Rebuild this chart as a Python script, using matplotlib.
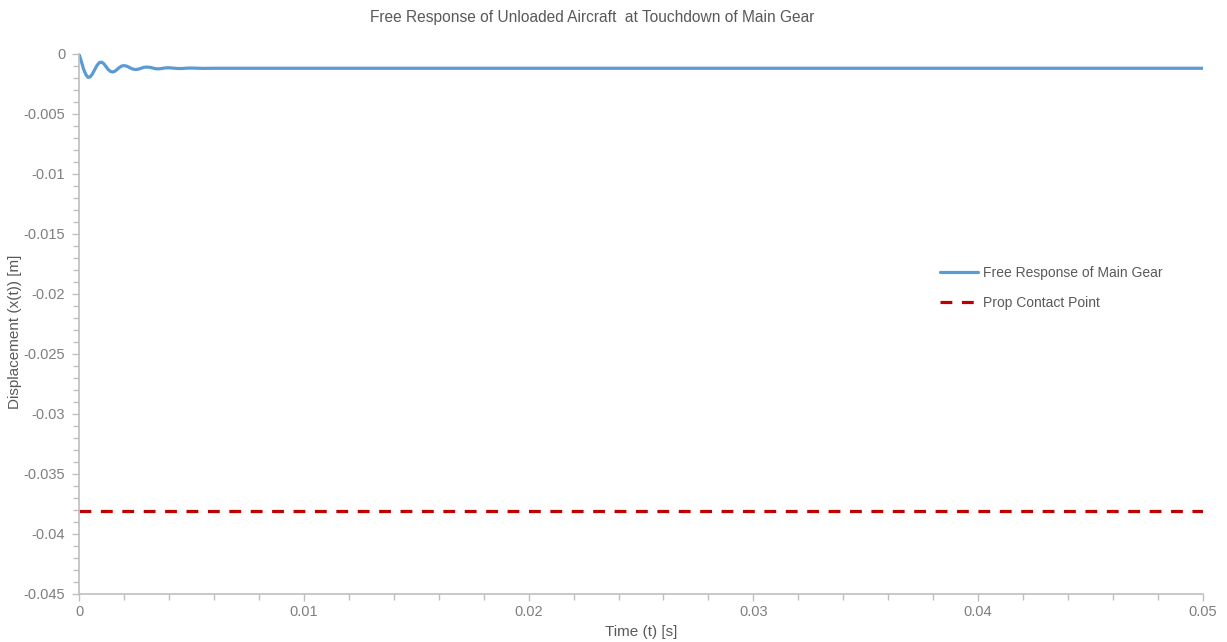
import matplotlib
matplotlib.use('Agg')
import matplotlib.pyplot as plt
from matplotlib.ticker import MultipleLocator, FixedLocator, FixedFormatter

plt.rcParams['font.family'] = ['Liberation Sans', 'DejaVu Sans']
plt.rcParams['axes.unicode_minus'] = False

# free response of main gear
time_s = [0, 0.0001, 0.0002, 0.0003, 0.0004, 0.0005, 0.0006, 0.0007, 0.0008, 0.0009,
          0.0010, 0.0011, 0.0012, 0.0013, 0.0014, 0.0015, 0.0016, 0.0017, 0.0018, 0.0019,
          0.0020, 0.0021, 0.0022, 0.0023, 0.0024, 0.0025, 0.0026, 0.0027, 0.0028, 0.0029,
          0.0030, 0.0031, 0.0032, 0.0033, 0.0034, 0.0035, 0.0036, 0.0037, 0.0038, 0.0039,
          0.0040, 0.0042, 0.0044, 0.0046, 0.0048, 0.0050, 0.0055, 0.0060, 0.0070, 0.0500]
displacement = [0, -0.0006, -0.00125, -0.0017, -0.00195, -0.0019, -0.00165, -0.0013, -0.00095, -0.00072,
                -0.00068, -0.0008, -0.00105, -0.0013, -0.00145, -0.0015, -0.00143, -0.00128, -0.00112, -0.0010,
                -0.00097, -0.0010, -0.00108, -0.00118, -0.00126, -0.00129, -0.00128, -0.00123, -0.00116, -0.00111,
                -0.00109, -0.0011, -0.00113, -0.00118, -0.00122, -0.00124, -0.00123, -0.0012, -0.00117, -0.00115,
                -0.00115, -0.00118, -0.00121, -0.00121, -0.00118, -0.00117, -0.0012, -0.00119, -0.00119, -0.00119]

prop_contact = -0.0381
prop_time = [0, 0.05]

x_ticks = [0, 0.01, 0.02, 0.03, 0.04, 0.05]
x_labels = ['0', '0.01', '0.02', '0.03', '0.04', '0.05']
y_ticks = [0, -0.005, -0.01, -0.015, -0.02, -0.025, -0.03, -0.035, -0.04, -0.045]
y_labels = ['0', '-0.005', '-0.01', '-0.015', '-0.02', '-0.025', '-0.03', '-0.035', '-0.04', '-0.045']

grey = '#595959'
fig = plt.figure(figsize=(12.27, 6.42), dpi=100)
ax = fig.add_axes([0.0644, 0.0748, 0.916, 0.8411])

ax.plot(time_s, displacement, color='#5b9bd5', linewidth=2.3,
        label='Free Response of Main Gear', solid_capstyle='round')
ax.plot(prop_time, [prop_contact, prop_contact], color='#c00000', linewidth=2.3,
        linestyle=(0, (3.7, 3.0)), label='Prop Contact Point')

ax.set_xlim(0, 0.05)
ax.set_ylim(-0.045, 0)
ax.xaxis.set_major_locator(FixedLocator(x_ticks))
ax.xaxis.set_major_formatter(FixedFormatter(x_labels))
ax.xaxis.set_minor_locator(MultipleLocator(0.002))
ax.yaxis.set_major_locator(FixedLocator(y_ticks))
ax.yaxis.set_major_formatter(FixedFormatter(y_labels))
ax.yaxis.set_minor_locator(MultipleLocator(0.001))

for s in ['top', 'right']:
    ax.spines[s].set_visible(False)
for s in ['left', 'bottom']:
    ax.spines[s].set_color('#bfbfbf')
    ax.spines[s].set_linewidth(1.2)

ax.tick_params(which='both', direction='out', color='#bfbfbf', width=1.0,
               labelcolor='#7f7f7f', labelsize=10.5)
ax.tick_params(which='major', length=5)
ax.tick_params(which='minor', length=4)
ax.tick_params(axis='x', pad=3)
ax.tick_params(axis='y', pad=5)

ax.set_xlabel('Time (t) [s]', color=grey, fontsize=11, labelpad=4)
ax.set_ylabel('Displacement (x(t)) [m]', color=grey, fontsize=11)
ax.yaxis.set_label_coords(-0.0507, 0.485)
fig.suptitle('Free Response of Unloaded Aircraft  at Touchdown of Main Gear',
             color=grey, fontsize=11.2, x=0.483, y=0.985)

leg = ax.legend(loc='upper left', bbox_to_anchor=(927 / 1227, 1 - 253 / 642),
                bbox_transform=fig.transFigure, frameon=False, fontsize=10,
                handlelength=2.75, labelspacing=1.2, handletextpad=0.4)
for t in leg.get_texts():
    t.set_color(grey)

fig.savefig('out.png', dpi=100)
